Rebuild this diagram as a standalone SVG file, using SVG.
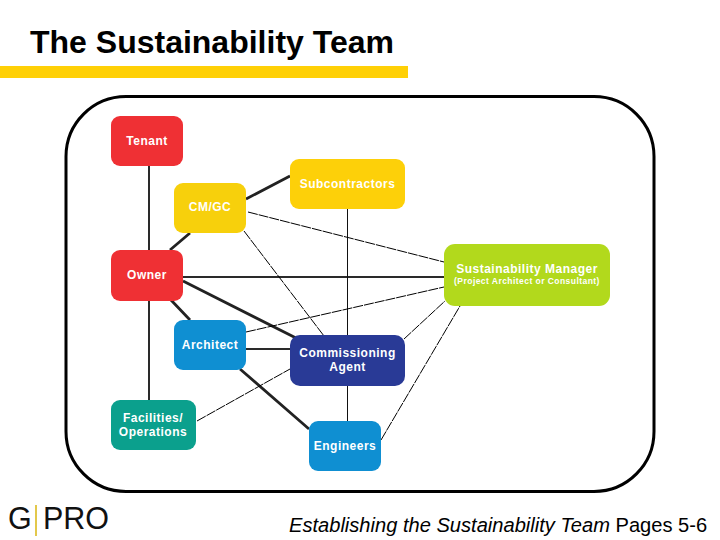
<svg xmlns="http://www.w3.org/2000/svg" width="720" height="540" viewBox="0 0 720 540">
<style>
text{font-family:"Liberation Sans",Arial,sans-serif}
.n{font-weight:700;font-size:12px;fill:#fff;text-anchor:middle;letter-spacing:.5px}
.s{font-size:8.500px;letter-spacing:.45px}
.k{stroke:#222;fill:none;stroke-width:2.800}
.m{stroke:#2a2a2a;fill:none;stroke-width:2}
.l{stroke:#111;fill:none;stroke-width:1}
.t{stroke:#000;fill:none;stroke-width:1;stroke-dasharray:10 1}
</style>
<rect width="720" height="540" fill="#fff"/>
<text x="30" y="53" font-size="32" font-weight="700" fill="#000">The Sustainability Team</text>
<rect x="0" y="66" width="408" height="12" fill="#ffd006"/>
<rect x="66" y="96.500" width="588" height="395" rx="60" ry="60" fill="#fff" stroke="#000" stroke-width="3"/>
<g id="connectors">
<path class="m" d="M149 166V400"/>
<path class="k" d="M246 199L290 176M190 233L170 250M183 281L296 338M171 300L190 320M240 369L309 429"/>
<path class="m" d="M183 277H444M246 349H290"/>
<path class="l" d="M347.500 208V335M347.500 386V421"/>
<path class="t" d="M248 212L444 262M244 231L324 336M246 332L444 287M197 421L290 369M404 339L445 301M381 440L460 306"/>
</g>
<g id="tenant"><rect x="111" y="116" width="72" height="50" rx="9" fill="#ef3034"/><text class="n" x="147" y="145">Tenant</text></g>
<g id="cmgc"><rect x="174" y="183" width="72" height="50" rx="9" fill="#f7d00c"/><text class="n" x="210" y="211">CM/GC</text></g>
<g id="subcontractors"><rect x="290" y="159" width="115" height="50" rx="9" fill="#fdd009"/><text class="n" x="347.500" y="188">Subcontractors</text></g>
<g id="owner"><rect x="111" y="250" width="72" height="51" rx="9" fill="#ef3034"/><text class="n" x="147" y="279">Owner</text></g>
<g id="sustainability-manager"><rect x="444" y="244" width="166" height="62" rx="11" fill="#b2d91c"/><text class="n" x="527" y="273">Sustainability Manager</text><text class="n s" x="527" y="284">(Project Architect or Consultant)</text></g>
<g id="architect"><rect x="174" y="320" width="72" height="50" rx="9" fill="#0f8fd2"/><text class="n" x="210" y="349">Architect</text></g>
<g id="commissioning-agent"><rect x="290" y="335" width="115" height="51" rx="10" fill="#293a96"/><text class="n" x="347.500" y="357">Commissioning</text><text class="n" x="347.500" y="371">Agent</text></g>
<g id="facilities-operations"><rect x="111" y="400" width="85" height="50" rx="9" fill="#0ba08d"/><text class="n" x="153" y="422">Facilities/</text><text class="n" x="153" y="436">Operations</text></g>
<g id="engineers"><rect x="309" y="421" width="72" height="50" rx="9" fill="#0f8fd2"/><text class="n" x="345" y="450">Engineers</text></g>
<text x="8" y="529" font-size="30.500" fill="#111">G</text>
<rect x="35" y="505" width="2" height="31" fill="#e3c84b"/>
<text x="43" y="529" font-size="30.500" fill="#111">PRO</text>
<text x="289" y="532" font-size="20.100" fill="#000"><tspan font-style="italic">Establishing the Sustainability Team</tspan> Pages 5-6</text>
</svg>
